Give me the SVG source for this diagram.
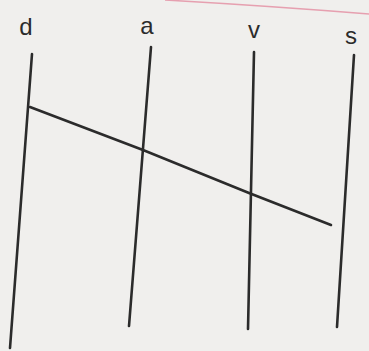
<svg xmlns="http://www.w3.org/2000/svg" width="369" height="351" viewBox="0 0 369 351">
<style>
.ln{stroke:#2b2b2b;stroke-width:2.6;fill:none;stroke-linecap:round}
.lb{font-family:"Liberation Sans",Arial,sans-serif;font-size:24px;fill:#2b2b2b;text-anchor:middle}
</style>
<rect width="369" height="351" fill="#f0efed"/>
<path d="M165,0 Q270,6 369,14" stroke="#e6a0b0" stroke-width="1.5" fill="none"/>
<g id="labels">
<text class="lb" x="26" y="35">d</text>
<text class="lb" x="147" y="34">a</text>
<text class="lb" x="254" y="38">v</text>
<text class="lb" x="351" y="44">s</text>
</g>
<g id="verticals">
<path id="line-d" class="ln" d="M32,54 L10,348"/>
<path id="line-a" class="ln" d="M151,47 L129,326"/>
<path id="line-v" class="ln" d="M254,52 L248,329"/>
<path id="line-s" class="ln" d="M354,55 L337,327"/>
</g>
<g id="connectors">
<path class="ln" d="M30,107 L143,150 L249,193 L331,225"/>
</g>
</svg>
